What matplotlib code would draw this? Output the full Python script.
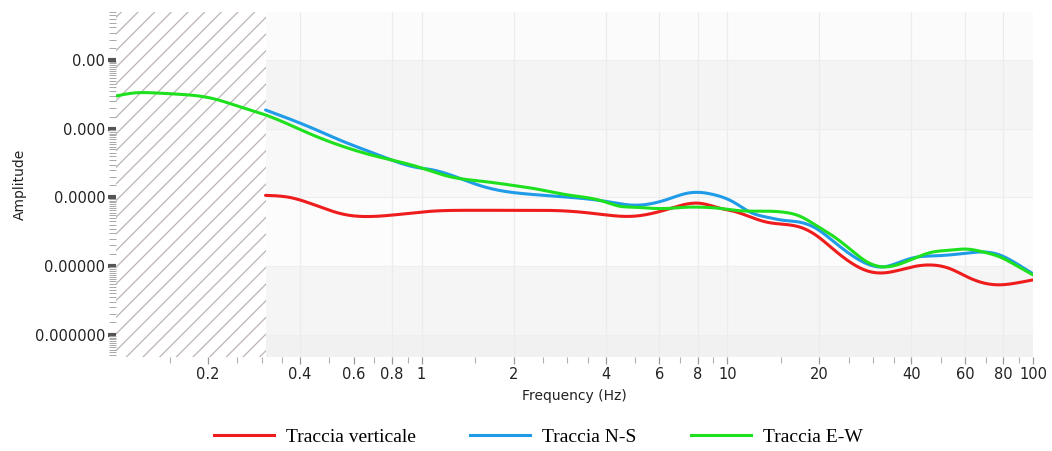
import numpy as np
import matplotlib
matplotlib.use("Agg")
import matplotlib.pyplot as plt
from matplotlib.lines import Line2D
from matplotlib.ticker import FixedLocator, NullFormatter, LogLocator

# Spectral amplitude of the three recorded components
freq_ew = [0.1, 0.115, 0.135, 0.159, 0.204, 0.262, 0.309, 0.433, 0.556, 0.718,
           0.97, 1.24, 1.59, 2.11, 2.32, 3.07, 3.85, 4.47, 4.93, 5.73, 6.37,
           7.40, 8.16, 9.49, 10.5, 11.9, 13.5, 15.2, 17.3, 19.7, 22.2, 25.2,
           28.7, 32.4, 36.7, 41.8, 47.1, 53.6, 60.9, 68.7, 78.0, 88.7, 100.0]
amp_ew = [3.0e-3, 3.33e-3, 3.33e-3, 3.2e-3, 2.81e-3, 2.01e-3, 1.59e-3, 8.4e-4,
          5.49e-4, 3.93e-4, 2.8e-4, 2.0e-4, 1.71e-4, 1.44e-4, 1.35e-4, 1.07e-4,
          9.0e-5, 7.4e-5, 7.2e-5, 6.9e-5, 6.9e-5, 7.2e-5, 7.2e-5, 6.9e-5,
          6.5e-5, 6.3e-5, 6.3e-5, 6.1e-5, 5.3e-5, 3.8e-5, 2.72e-5, 1.76e-5,
          1.14e-5, 9.7e-6, 1.07e-5, 1.35e-5, 1.6e-5, 1.7e-5, 1.76e-5, 1.6e-5,
          1.35e-5, 1.0e-5, 7.4e-6]

freq_ns = [0.309, 0.433, 0.556, 0.718, 0.97, 1.07, 1.59, 2.32, 3.07, 4.0, 4.93,
           6.37, 7.40, 8.16, 9.0, 10.5, 11.9, 13.5, 15.2, 17.3, 19.7, 22.2,
           25.2, 28.7, 32.4, 36.7, 41.8, 47.1, 60.9, 68.7, 78.0, 88.7, 100.0]
amp_ns = [1.88e-3, 1.05e-3, 6.5e-4, 4.2e-4, 2.72e-4, 2.55e-4, 1.44e-4, 1.1e-4,
          1.0e-4, 8.75e-5, 7.7e-5, 9.35e-5, 1.15e-4, 1.18e-4, 1.1e-4, 8.5e-5,
          6.06e-5, 5.13e-5, 4.64e-5, 4.34e-5, 3.44e-5, 2.3e-5, 1.49e-5,
          1.07e-5, 9.7e-6, 1.14e-5, 1.35e-5, 1.4e-5, 1.54e-5, 1.6e-5, 1.44e-5,
          1.07e-5, 7.66e-6]

freq_v = [0.309, 0.37, 0.556, 0.718, 1.07, 1.45, 2.11, 3.07, 3.85, 4.47, 4.93,
          6.37, 8.16, 9.49, 10.5, 13.5, 15.2, 17.3, 19.7, 22.2, 25.2, 28.7,
          32.4, 36.7, 41.8, 47.1, 53.6, 60.9, 68.7, 78.0, 88.7, 100.0]
amp_v = [1.07e-4, 1.0e-4, 5.67e-5, 5.31e-5, 6.27e-5, 6.48e-5, 6.48e-5, 6.27e-5,
         5.67e-5, 5.31e-5, 5.31e-5, 6.7e-5, 8.19e-5, 6.93e-5, 6.27e-5, 4.34e-5,
         4.06e-5, 3.68e-5, 2.72e-5, 1.76e-5, 1.14e-5, 8.47e-6, 7.92e-6,
         8.75e-6, 1.0e-5, 1.03e-5, 9.1e-6, 6.93e-6, 5.67e-6, 5.31e-6, 5.67e-6,
         6.27e-6]

x_tick_values = [0.2, 0.4, 0.6, 0.8, 1, 2, 4, 6, 8, 10, 20, 40, 60, 80, 100]
x_tick_labels = ["0.2", "0.4", "0.6", "0.8", "1", "2", "4", "6", "8", "10",
                 "20", "40", "60", "80", "100"]
y_tick_values = [1e-2, 1e-3, 1e-4, 1e-5, 1e-6]
y_tick_labels = ["0.00", "0.000", "0.0000", "0.00000", "0.000000"]

series_names = ["Traccia verticale", "Traccia N-S", "Traccia E-W"]
series_colors = ["#ee1c1c", "#1f9be8", "#1ee01e"]

# frequency band excluded from the analysis
excluded_band = (0.1, 0.31)


def spline_loglog(x, y, n=600):
    """Natural cubic spline through the points in log-log space."""
    lx = np.log10(np.asarray(x, float))
    ly = np.log10(np.asarray(y, float))
    m = len(lx)
    h = np.diff(lx)
    A = np.zeros((m, m))
    b = np.zeros(m)
    A[0, 0] = A[-1, -1] = 1.0
    for i in range(1, m - 1):
        A[i, i - 1] = h[i - 1]
        A[i, i] = 2 * (h[i - 1] + h[i])
        A[i, i + 1] = h[i]
        b[i] = 3 * ((ly[i + 1] - ly[i]) / h[i] - (ly[i] - ly[i - 1]) / h[i - 1])
    c = np.linalg.solve(A, b)
    bb = (ly[1:] - ly[:-1]) / h - h * (2 * c[:-1] + c[1:]) / 3
    d = (c[1:] - c[:-1]) / (3 * h)
    xs = np.linspace(lx[0], lx[-1], n)
    idx = np.clip(np.searchsorted(lx, xs) - 1, 0, m - 2)
    t = xs - lx[idx]
    ys = ly[idx] + bb[idx] * t + c[idx] * t ** 2 + d[idx] * t ** 3
    return 10 ** xs, 10 ** ys


plt.rcParams["hatch.linewidth"] = 0.9

fig = plt.figure(figsize=(10.52, 4.51), dpi=100)
ax = fig.add_axes([0.110, 0.208, 0.872, 0.765])
ax.set_xscale("log")
ax.set_yscale("log")
xlim = (0.1, 100)
ylim = (10 ** -6.33, 10 ** -1.30)
ax.set_xlim(*xlim)
ax.set_ylim(*ylim)
ax.set_facecolor("#fbfbfb")

# soft horizontal bands between decades
bands = [(ylim[0], 1e-6, "#f1f1f1"), (1e-6, 1e-5, "#f5f5f5"),
         (1e-5, 1e-4, "#fcfcfc"), (1e-4, 1e-3, "#f8f8f8"),
         (1e-3, 1e-2, "#f4f4f4"), (1e-2, ylim[1], "#fbfbfb")]
for lo, hi, col in bands:
    ax.axhspan(lo, hi, color=col, lw=0, zorder=0)

for xv in [0.4, 0.8, 1, 2, 4, 6, 8, 10, 20, 40, 60, 80]:
    ax.axvline(xv, color="#ececec", lw=0.9, zorder=0.5)
for yv in y_tick_values:
    ax.axhline(yv, color="#eeeeee", lw=0.8, zorder=0.5)

# hatched band
ax.axvspan(*excluded_band, facecolor="white", edgecolor="#bdb2ba",
           hatch="//", lw=0, zorder=1)

order = [(freq_v, amp_v, 0), (freq_ns, amp_ns, 1), (freq_ew, amp_ew, 2)]
for fx, ay, k in order:
    xs, ys = spline_loglog(fx, ay)
    ax.plot(xs, ys, color=series_colors[k], lw=2.2, zorder=3,
            solid_capstyle="round")

for s in ["top", "right", "bottom", "left"]:
    ax.spines[s].set_visible(False)

ax.xaxis.set_major_locator(FixedLocator(x_tick_values))
ax.set_xticklabels(x_tick_labels)
minor_x = [v * 10 ** e for e in (-1, 0, 1) for v in
           (1.5, 2.5, 3, 3.5, 5, 7, 9)]
ax.xaxis.set_minor_locator(FixedLocator([m for m in minor_x if 0.1 <= m <= 100]))
ax.xaxis.set_minor_formatter(NullFormatter())
ax.tick_params(axis="x", which="major", direction="out", length=5, width=0.9,
               color="#9a9a9a", pad=2, labelsize=10.5, labelcolor="#222222")
ax.tick_params(axis="x", which="minor", direction="out", length=4, width=0.8,
               color="#b0b0b0")

ax.yaxis.set_major_locator(FixedLocator(y_tick_values))
ax.set_yticklabels(y_tick_labels)
ax.yaxis.set_minor_locator(LogLocator(base=10, subs=np.arange(1.0, 10.0, 0.5),
                                      numticks=50))
ax.yaxis.set_minor_formatter(NullFormatter())
ax.tick_params(axis="y", which="major", direction="out", length=6, width=3,
               color="#555555", pad=1.5, labelsize=10.5, labelcolor="#222222")
ax.tick_params(axis="y", which="minor", direction="out", length=5, width=0.7,
               color="#a8a8a8")

ax.set_xlabel("Frequency (Hz)", fontsize=10, labelpad=5, color="#222222")
ax.set_ylabel("Amplitude", fontsize=10, labelpad=6, color="#222222")

handles = [Line2D([], [], color=c, lw=2.2) for c in series_colors]
fig.legend(handles, series_names, loc="center", ncol=3, frameon=False,
           bbox_to_anchor=(538 / 1052, 1 - 437 / 451),
           prop={"family": "Liberation Serif", "size": 14},
           handlelength=3.1, handletextpad=0.6, columnspacing=2.8)

fig.savefig("out.png", dpi=100, facecolor="white")
